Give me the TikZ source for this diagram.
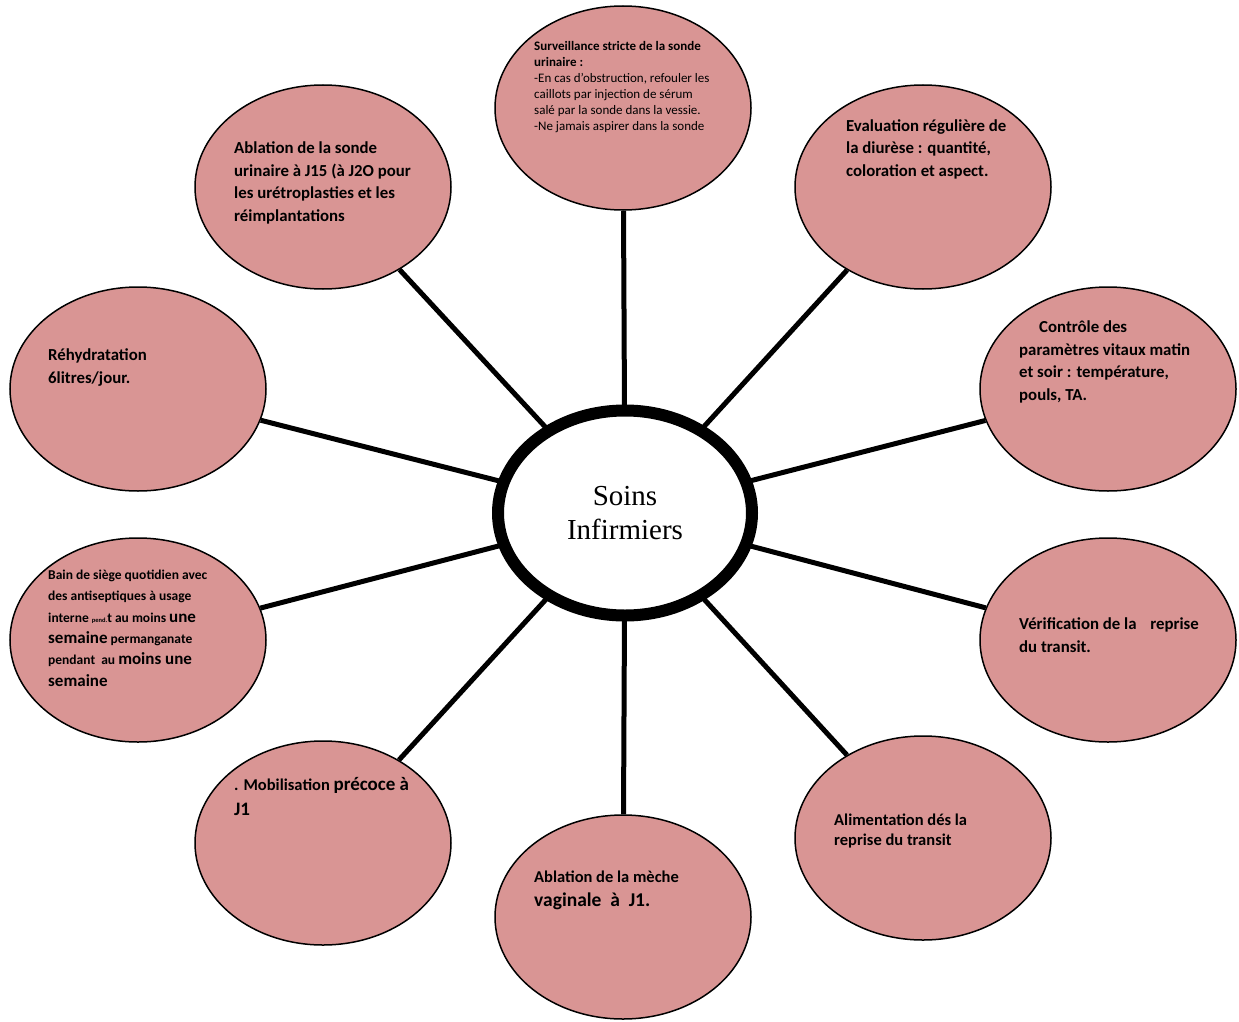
\documentclass[tikz,border=0pt]{standalone}
\usepackage{fontspec}
\setmainfont{Carlito}
\newfontfamily\serifhub{Liberation Serif}
\usetikzlibrary{shapes.geometric}
\definecolor{bubblepink}{RGB}{217,149,148}
\tikzset{
    % bubbles and connectors
    bubble/.style={ellipse, draw=black, line width=1.5pt, fill=bubblepink,
                   minimum width=256pt, minimum height=204pt, inner sep=0pt},
    hub/.style={ellipse, draw=black, line width=12pt, fill=white,
                minimum width=254pt, minimum height=205pt, inner sep=0pt,
                align=center, font=\serifhub\fontsize{29}{34}\selectfont},
    link/.style={line width=5pt},
    % texts inside the bubbles (anchored at the last line)
    txt/.style={anchor=base west, inner sep=0pt, align=left,
                font=\bfseries\fontsize{16.8}{22.5}\selectfont},
    small txt/.style={txt, font=\fontsize{13}{16}\selectfont},
}
\begin{document}
\begin{tikzpicture}[x=1pt, y=-1pt]
    \useasboundingbox (0,0) rectangle (1239,1022);

    % Bubbles
    \node[bubble] (surv) at (623,108) {};
    \node[bubble] (evalu) at (923,187) {};
    \node[bubble] (ctrl) at (1108,389) {};
    \node[bubble] (verif) at (1108,640) {};
    \node[bubble] (alim) at (923,838) {};
    \node[bubble] (meche) at (623,917) {};
    \node[bubble] (mobil) at (323,843) {};
    \node[bubble] (bain) at (138,640) {};
    \node[bubble] (rehyd) at (138,389) {};
    \node[bubble] (ablat) at (323,187) {};

    % Connectors
    \foreach \b in {surv, evalu, ctrl, verif, alim, meche, mobil, bain, rehyd, ablat}
        \draw[link] (625,513) -- (\b);

    % Centre
    \node[hub] (soins) at (625,513) {Soins\\Infirmiers};

    % Texts
    \node[small txt] (surv-txt) at (534,131) {\textbf{Surveillance stricte de la sonde}\\
        \textbf{urinaire :}\\
        -En cas d'obstruction, refouler les\\
        caillots par injection de sérum\\
        salé par la sonde dans la vessie.\\
        -Ne jamais aspirer dans la sonde};
    \node[txt] (evalu-txt) at (846,176) {Evaluation régulière de\\
        la diurèse : quantité,\\
        coloration et aspect.};
    \node[txt] (ctrl-txt) at (1019,400) {\hspace*{20pt}Contrôle des\\
        paramètres vitaux matin\\
        et soir : température,\\
        pouls, TA.};
    \node[txt] (verif-txt) at (1019,652) {Vérification de la\hspace{10pt} reprise\\
        du transit.};
    \node[txt, font=\bfseries\fontsize{16.5}{19.5}\selectfont] (alim-txt) at (834,845) {Alimentation dés la\\
        reprise du transit};
    \node[txt, font=\bfseries\fontsize{16.5}{24}\selectfont] (meche-txt) at (534,906) {Ablation de la mèche\\
        {\fontsize{19.5}{24}\selectfont vaginale\ \ à\ \ J1.}};
    \node[txt, font=\bfseries\fontsize{16.5}{25}\selectfont] (mobil-txt) at (234,815) {. Mobilisation {\fontsize{19}{25}\selectfont précoce à}\\
        {\fontsize{19}{25}\selectfont J1}};
    \node[txt, font=\bfseries\fontsize{13.5}{21.3}\selectfont] (bain-txt) at (48,686) {Bain de siège quotidien avec\\
        des antiseptiques à usage\\
        interne {\fontsize{6.5}{7}\selectfont pend.}t au moins {\fontsize{17}{18}\selectfont une}\\
        {\fontsize{17}{18}\selectfont semaine} permanganate\\
        pendant\ \ au {\fontsize{17}{18}\selectfont moins une}\\
        {\fontsize{17}{18}\selectfont semaine}};
    \node[txt] (rehyd-txt) at (48,383) {Réhydratation\\
        6litres/jour.};
    \node[txt] (ablat-txt) at (234,221) {Ablation de la sonde\\
        urinaire à J15 (à J2O pour\\
        les urétroplasties et les\\
        réimplantations};
\end{tikzpicture}
\end{document}
